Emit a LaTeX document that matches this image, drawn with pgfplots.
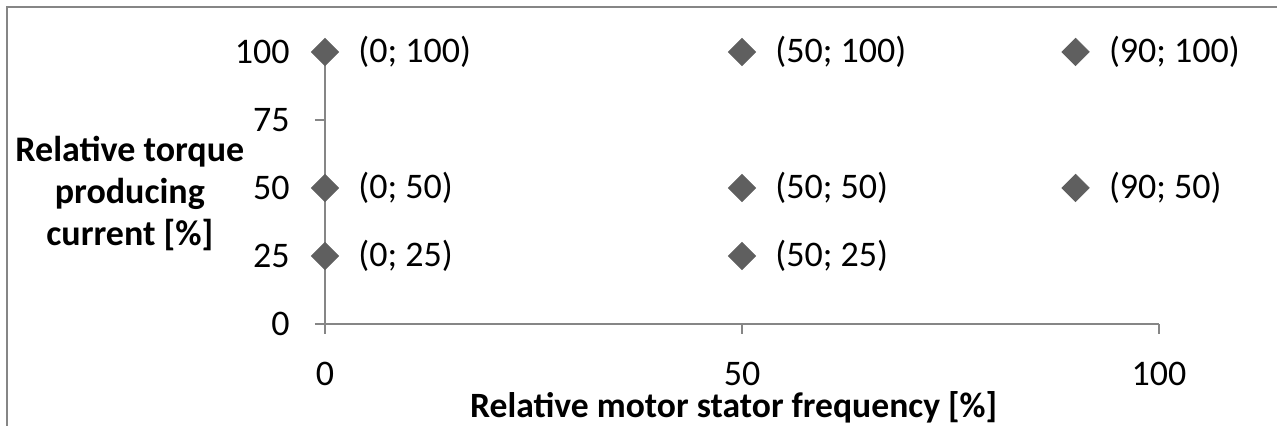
\documentclass[border=0pt]{standalone}
\usepackage{fontspec}
\setmainfont{Carlito}
\usepackage{pgfplots}
\usepackage{pgfplotstable}
\pgfplotsset{compat=1.18}

\definecolor{axisgray}{HTML}{868686}
\definecolor{markgray}{HTML}{5F5F5F}

\pgfplotstableread{
x   y
0   100
50  100
90  100
0   50
50  50
90  50
0   25
50  25
}\points

\begin{document}
\begin{tikzpicture}
\path[use as bounding box] (-162.5pt,-51pt) rectangle (476pt,162pt);
\draw[axisgray, line width=0.7pt] (-159pt,-60pt) -- (-159pt,158.5pt) -- (480pt,158.5pt);
\begin{axis}[
    at={(0pt,0pt)}, anchor=south west,
    scale only axis,
    width=417pt, height=136pt,
    xmin=0, xmax=100, ymin=0, ymax=100,
    axis lines=left,
    axis line style={-, axisgray, line width=0.75pt},
    tick style={axisgray, line width=0.75pt},
    tick align=outside,
    major tick length=5pt,
    xtick={0,50,100},
    ytick={0,25,50,75,100},
    font=\fontsize{18}{22}\selectfont,
    /pgf/number format/assume math mode=true,
    yticklabel style={anchor=east, inner sep=0pt, xshift=-12.5pt},
    xticklabel style={anchor=north, inner sep=0pt, yshift=-14pt},
    xlabel={Relative motor stator frequency [\%]},
    xlabel style={font=\fontsize{17.8}{22}\selectfont\bfseries, at={(axis description cs:0.49,-0.305)}, anchor=center},
    ylabel={Relative torque\\producing\\current [\%]},
    ylabel style={rotate=-90, align=center, font=\fontsize{18}{21}\selectfont\bfseries, at={(axis description cs:-0.234,0.48)}, anchor=center},
    clip=false,
]
\addplot[only marks, mark=square*, mark size=4.8pt,
    mark options={rotate=45, fill=markgray, draw=markgray},
    visualization depends on={\thisrow{x} \as \px},
    visualization depends on={\thisrow{y} \as \py},
    nodes near coords={(\pgfmathprintnumber{\px}; \pgfmathprintnumber{\py})},
    every node near coord/.append style={anchor=west, xshift=16.5pt, yshift=0pt, font=\fontsize{18}{22}\selectfont, text=black, inner sep=0pt}
] table[x=x, y=y] {\points};
\end{axis}
\end{tikzpicture}
\end{document}
